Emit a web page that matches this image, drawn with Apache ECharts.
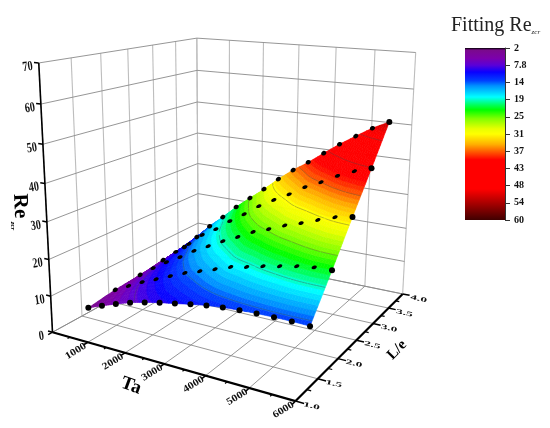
<!DOCTYPE html><html><head><meta charset="utf-8"><style>html,body{margin:0;background:#fff}#c{width:550px;height:428px}</style><script src="https://cdn.jsdelivr.net/npm/echarts@6/dist/echarts.min.js"></script></head><body><div id="c"></div>
<script>
// Data
const taValues=[200,600,1000,1400,1800,2200,2600,3000,3400,3800,4200,4600,5000,5400,5800];
const leValues=[1.5,2,2.5,3,3.5];
const reLe15=[2.9,4.5,6.0,7.4,8.5,9.4,10.2,11.0,11.7,12.2,12.5,12.7,12.8,12.8,12.7];
const reLe20=[3.9,6.0,8.1,9.9,11.7,13.5,14.9,16.4,17.9,18.8,19.9,20.8,21.7,22.3,22.5];
const reLe25=[4.4,7.4,10.1,12.5,15.2,17.4,19.7,21.7,23.9,25.5,27.3,28.7,30.3,31.8,32.6];
const reLe30=[5.2,8.7,12.0,15.6,18.2,21.4,24.2,27.3,29.8,32.1,34.8,36.8,39.2,41.1,42.5];
const reLe35=[5.8,9.9,14.2,17.9,21.8,25.3,28.7,32.4,35.7,38.6,41.8,44.9,47.7,50.4,52.6];
const reRows=[reLe15,reLe20,reLe25,reLe30,reLe35];
const taTicks=[0,1000,2000,3000,4000,5000,6000];
const leTicks=[1,1.5,2,2.5,3,3.5,4];
const reTicks=[0,10,20,30,40,50,60,70];
const barLabels=['2','7.8','14','19','25','31','37','43','48','54','60'];
const contourLevels=[7.8,13.6,19.4,25.2,31,36.8,42.6,48.4];
const barStops=[[0,'#000000'],[0.012,'#7a0a8c'],[0.06,'#7c00ac'],[0.10,'#5a00d8'],[0.14,'#0a00ff'],[0.19,'#0040ff'],[0.22,'#0090ff'],[0.285,'#00ffff'],[0.33,'#00ff60'],[0.36,'#00ff00'],[0.41,'#80ff00'],[0.47,'#e8ff00'],[0.5,'#ffff00'],[0.56,'#ffb000'],[0.6,'#ff6000'],[0.65,'#ff0000'],[0.82,'#ff0000'],[0.88,'#c00000'],[1,'#400000']];
// Camera calibration: axis position -> where that axis position lies in the picture
const calib=[[0,1,0,54,332],[1000,1,0,88,342],[2000,1,0,124,353],[3000,1,0,163,364],[4000,1,0,205,375],[5000,1,0,248,387],[6000,1,0,293,402],
[6000,1.5,0,320,378],[6000,2,0,340,359],[6000,2.5,0,358,340],[6000,3,0,375,323],[6000,3.5,0,388,308],[6000,4,0,402,294],
[0,1,10,49,297],[0,1,20,48,260],[0,1,30,48,222],[0,1,40,46,183],[0,1,50,43,145],[0,1,60,41,104],[0,1,70,39,63],
[0,4,70,196,37],[0,4,60,197,70],[0,4,50,197,102],[0,4,40,198,133],[0,4,30,198,164],[0,4,20,198,194],[6000,4,70,417,52],[6000,4,50,410,127],[6000,4,20,405,228]];
function fit(){const A=[],b=[];for(const [T,L,R,u0,v0] of calib){const X=T/6000,Y=(L-1)/3,Z=R/70,u=u0/500,v=v0/500;
A.push([X,Y,Z,1,0,0,0,0,-u*X,-u*Y,-u*Z]);b.push(u);A.push([0,0,0,0,X,Y,Z,1,-v*X,-v*Y,-v*Z]);b.push(v);}
const n=11,M=[];for(let i=0;i<n;i++){M.push(new Array(n+1).fill(0));for(let j=0;j<n;j++)for(let k=0;k<A.length;k++)M[i][j]+=A[k][i]*A[k][j];for(let k=0;k<A.length;k++)M[i][n]+=A[k][i]*b[k];}
for(let i=0;i<n;i++){let p=i;for(let r=i;r<n;r++)if(Math.abs(M[r][i])>Math.abs(M[p][i]))p=r;[M[i],M[p]]=[M[p],M[i]];for(let r=0;r<n;r++)if(r!==i){const f=M[r][i]/M[i][i];for(let c=i;c<=n;c++)M[r][c]-=f*M[i][c];}}
return M.map((r,i)=>r[n]/r[i]);}
const p=fit();
function proj(T,L,R){const X=T/6000,Y=(L-1)/3,Z=R/70,w=p[8]*X+p[9]*Y+p[10]*Z+1;return [500*(p[0]*X+p[1]*Y+p[2]*Z+p[3])/w,500*(p[4]*X+p[5]*Y+p[6]*Z+p[7])/w];}

function hex(c){return [1,3,5].map(i=>parseInt(c.substr(i,2),16));}
function colorOf(re){const f=Math.max(0,Math.min(1,(re-2)/58));for(let i=1;i<barStops.length;i++){if(f<=barStops[i][0]){const a=barStops[i-1],b=barStops[i],t=(f-a[0])/(b[0]-a[0]),x=hex(a[1]),y=hex(b[1]);return 'rgb('+x.map((v,j)=>Math.round(v+(y[j]-v)*t)).join(',')+')';}}return barStops[barStops.length-1][1];}
const SUB=6,nC=taValues.length,nR=leValues.length,BAND=0.9;
function cr(a,b,c,d,t){return 0.5*(2*b+(c-a)*t+(2*a-5*b+4*c-d)*t*t+(3*b-a-3*c+d)*t*t*t);}
function ext(arr,i){const n=arr.length;if(i<0)return 2*arr[0]-arr[1];if(i>=n)return 2*arr[n-1]-arr[n-2];return arr[i];}
function interpRe(c,r){const ci=Math.min(nC-2,Math.floor(c)),ri=Math.min(nR-2,Math.floor(r)),tc=c-ci,tr=r-ri;const v=[];for(let k=-1;k<=2;k++){const f=j=>{const a=k+ri<0?null:k+ri>=nR?null:reRows[k+ri];if(a)return ext(a,j);const i0=k+ri<0?0:nR-1,i1=k+ri<0?1:nR-2;return 2*ext(reRows[i0],j)-ext(reRows[i1],j);};v.push(cr(f(ci-1),f(ci),f(ci+1),f(ci+2),tc));}return cr(v[0],v[1],v[2],v[3],tr);}
const fine=[];for(let r=0;r<=(nR-1)*SUB;r++){const line=[],L=leValues[0]+(leValues[1]-leValues[0])*r/SUB;for(let c=0;c<=(nC-1)*SUB;c++){const T=taValues[0]+(taValues[1]-taValues[0])*c/SUB,R=interpRe(c/SUB,r/SUB),q=proj(T,L,R);line.push({x:q[0],y:q[1],re:R});}fine.push(line);}

function seg(a,b,style){return {type:'line',shape:{x1:a[0],y1:a[1],x2:b[0],y2:b[1]},style:style,silent:true};}
const gridData=[];
const WALL='#8a8a8a',VERT='#bdbdbd',FLOOR='#8c8c8c';
taTicks.forEach(t=>{gridData.push([t,1,0,t,4,0,0]);gridData.push([t,4,0,t,4,70,1]);});
leTicks.forEach(l=>{gridData.push([0,l,0,6000,l,0,0]);gridData.push([0,l,0,0,l,70,1]);});
reTicks.forEach(r=>{gridData.push([0,1,r,0,4,r,2]);gridData.push([0,4,r,6000,4,r,2]);});
const axisData=[[0,1,0,6000,1,0,2.2],[6000,1,0,6000,4,0,2.2],[0,1,0,0,1,70,1.6]];
taTicks.forEach(t=>{axisData.push([t,1,0,t,0.93,0,1.5]);if(t<6000)axisData.push([t+500,1,0,t+500,0.96,0,1.2]);});
leTicks.forEach(l=>{axisData.push([6000,l,0,6180,l,0,1.5]);if(l<4)axisData.push([6000,l+0.25,0,6090,l+0.25,0,1.2]);});
reTicks.forEach(r=>{axisData.push([0,1,r,-130,1,r,1.5]);});

const surfData=[];for(let r=nR-2;r>=0;r--)for(let c=0;c<nC-1;c++)surfData.push([c,r,taValues[c],leValues[r],reRows[r][c]]);
const dotData=[];for(let r=nR-1;r>=0;r--)for(let c=0;c<nC;c++)dotData.push([taValues[c],leValues[r],reRows[r][c],r,c]);

function crossing(a,b,l){const t=(l-a.re)/(b.re-a.re);return {x:a.x+(b.x-a.x)*t,y:a.y+(b.y-a.y)*t,re:l};}
function clip(poly,l,keepAbove){const out=[];for(let i=0;i<poly.length;i++){const a=poly[i],b=poly[(i+1)%poly.length],ia=keepAbove?a.re>=l:a.re<=l,ib=keepAbove?b.re>=l:b.re<=l;if(ia)out.push(a);if(ia!==ib)out.push(crossing(a,b,l));}return out;}
function renderSurf(params,api){const c0=api.value(0),r0=api.value(1),ch=[];
for(let r=r0*SUB;r<(r0+1)*SUB;r++)for(let c=c0*SUB;c<(c0+1)*SUB;c++){const q=[fine[r][c],fine[r][c+1],fine[r+1][c+1],fine[r+1][c]],res=q.map(v=>v.re),lo=Math.floor(Math.min(...res)/BAND),hi=Math.floor(Math.max(...res)/BAND);
for(let b=lo;b<=hi;b++){let g=clip(q,b*BAND,true);if(g.length>=3)g=clip(g,(b+1)*BAND,false);if(g.length<3)continue;const col=colorOf((b+0.5)*BAND);ch.push({type:'polygon',shape:{points:g.map(v=>[v.x,v.y])},style:{fill:col,stroke:col,lineWidth:0.6},silent:true});}}
for(let r=r0*SUB;r<(r0+1)*SUB;r++)for(let c=c0*SUB;c<(c0+1)*SUB;c++){const a=fine[r][c],b=fine[r][c+1],d=fine[r+1][c+1],e=fine[r+1][c],ed=[[a,b],[b,d],[d,e],[e,a]];
contourLevels.forEach(l=>{const pts=[];ed.forEach(s=>{if((s[0].re-l)*(s[1].re-l)<0){const k=crossing(s[0],s[1],l);pts.push([k.x,k.y]);}});if(pts.length>=2)ch.push(seg(pts[0],pts[1],{stroke:'rgba(70,70,70,0.55)',lineWidth:0.7}));});}
return {type:'group',children:ch};}
function renderDot(params,api){const q=proj(api.value(0),api.value(1),api.value(2)),r=api.value(3),c=api.value(4);
if(r===0||c===nC-1)return {type:'circle',shape:{cx:q[0],cy:q[1],r:3},style:{fill:'#000'}};
if(r===nR-1||c===0)return {type:'ellipse',x:q[0],y:q[1],rotation:0.5,shape:{cx:0,cy:0,rx:2.7,ry:2.2},style:{fill:'#000'}};
return {type:'ellipse',x:q[0],y:q[1],rotation:0.45,shape:{cx:0,cy:0,rx:2.8,ry:1.7},style:{fill:'#000'}};}
function tickText(v,q,dx,dy,rot,font,sx,sy){return {type:'text',x:q[0]+dx,y:q[1]+dy,rotation:rot,scaleX:sx,scaleY:sy,style:{text:String(v),font:font,fill:'#111',align:'center',verticalAlign:'middle'}};}
const F="'Liberation Serif'";
const option={animation:false,backgroundColor:'#fff',
title:{text:'{m|Fitting Re}{s|zcr}',left:446,top:11,textStyle:{fontWeight:'normal',rich:{m:{fontFamily:F,fontSize:20,fontWeight:'normal',color:'#222'},s:{fontFamily:F,fontSize:7,fontStyle:'italic',fontWeight:'normal',color:'#222',padding:[12,0,0,0]}}}},
grid:{left:465,top:48,width:40,height:172},
xAxis:{type:'category',data:['Re'],show:false},
yAxis:{type:'value',min:0,max:10,interval:1,inverse:true,position:'right',splitLine:{show:false},axisLine:{show:true,lineStyle:{color:'#333',width:1}},axisTick:{show:true,length:5,lineStyle:{color:'#333'}},axisLabel:{margin:9,fontFamily:F,fontWeight:'bold',fontSize:10,color:'#111',formatter:v=>barLabels[v]}},
graphic:[
{type:'text',x:20,y:206,rotation:-Math.PI/2*0.97,style:{text:'Re',font:"bold 21px "+F,fill:'#000',align:'center',verticalAlign:'middle'}},
{type:'text',x:13,y:226,rotation:-Math.PI/2,style:{text:'zcr',font:"italic bold 7px "+F,fill:'#000',align:'center',verticalAlign:'middle'}},
{type:'text',x:131,y:386,rotation:-0.35,style:{text:'Ta',font:"bold 19px "+F,fill:'#000',align:'center',verticalAlign:'middle'}},
{type:'text',x:397,y:350,rotation:0.8,style:{text:'L/e',font:"bold 15px "+F,fill:'#000',align:'center',verticalAlign:'middle'}}
],
series:[
{type:'bar',data:[10],barWidth:'100%',silent:true,itemStyle:{color:new echarts.graphic.LinearGradient(0,0,0,1,barStops.map(s=>({offset:s[0],color:s[1]})))}},
{type:'custom',coordinateSystem:'none',data:gridData,silent:true,z:2,renderItem:(pa,api)=>{const k=api.value(6);return seg(proj(api.value(0),api.value(1),api.value(2)),proj(api.value(3),api.value(4),api.value(5)),{stroke:k===0?FLOOR:k===1?VERT:WALL,lineWidth:k===1?1.1:0.9});}},
{type:'custom',coordinateSystem:'none',data:axisData,silent:true,z:3,renderItem:(pa,api)=>seg(proj(api.value(0),api.value(1),api.value(2)),proj(api.value(3),api.value(4),api.value(5)),{stroke:'#000',lineWidth:api.value(6)})},
{type:'custom',coordinateSystem:'none',data:surfData,silent:true,z:4,renderItem:renderSurf},
{type:'custom',coordinateSystem:'none',data:dotData,silent:true,z:5,renderItem:renderDot},
{type:'custom',coordinateSystem:'none',data:taTicks.slice(1),silent:true,z:6,renderItem:(pa,api)=>{const v=api.value(0);return tickText(v,proj(v,1,0),-12,9,0.55,"bold 10px "+F,1.15,1);}},
{type:'custom',coordinateSystem:'none',data:leTicks,silent:true,z:6,renderItem:(pa,api)=>{const v=api.value(0);return tickText(v.toFixed(1),proj(6000,v,0),16,5,-0.22,"bold 9px "+F,1.5,0.75);}},
{type:'custom',coordinateSystem:'none',data:reTicks,silent:true,z:6,renderItem:(pa,api)=>{const v=api.value(0);return tickText(v,proj(0,1,v),-11,4,0.15,"bold 14px "+F,0.72,1);}}
]};
echarts.init(document.getElementById('c'),null,{renderer:'canvas'}).setOption(option);
</script></body></html>
